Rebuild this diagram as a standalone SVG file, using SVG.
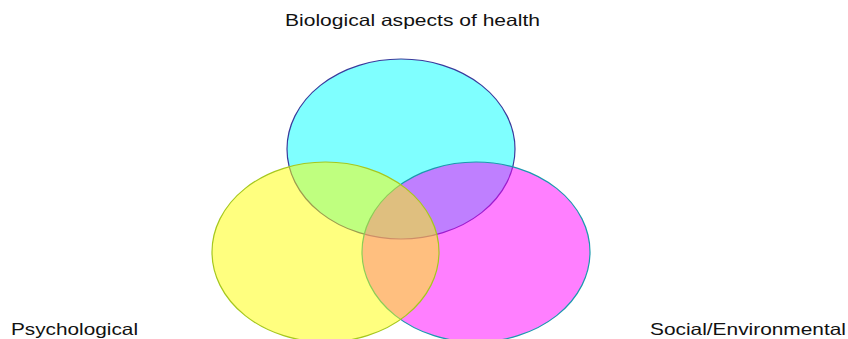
<svg xmlns="http://www.w3.org/2000/svg" width="848" height="339" viewBox="0 0 848 339">
<style>
.set{fill-opacity:0.5;stroke-width:1.2}
.lbl{font-family:"Liberation Sans",Arial,sans-serif;font-size:16.5px;fill:#111}
</style>
<rect width="848" height="339" fill="#fff"/>
<g id="biological"><ellipse class="set" cx="401" cy="149" rx="114" ry="90" fill="#00ffff" stroke="#3a3a9c"/></g>
<g id="social"><ellipse class="set" cx="476" cy="252" rx="114" ry="90" fill="#ff00ff" stroke="#1a9aae"/></g>
<g id="psychological"><ellipse class="set" cx="325.5" cy="252" rx="113.5" ry="90" fill="#ffff00" stroke="#a6c81e"/></g>
<g id="connectors"></g>
<g id="labels">
<text class="lbl" x="285" y="26" textLength="255" lengthAdjust="spacingAndGlyphs">Biological aspects of health</text>
<text class="lbl" x="11" y="335" textLength="127" lengthAdjust="spacingAndGlyphs">Psychological</text>
<text class="lbl" x="650" y="335" textLength="196" lengthAdjust="spacingAndGlyphs">Social/Environmental</text>
</g>
</svg>
